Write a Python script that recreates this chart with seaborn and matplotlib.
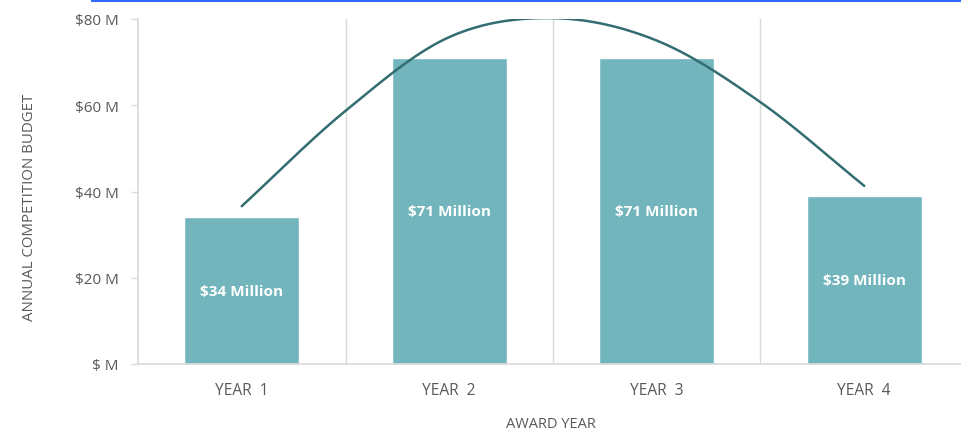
import numpy as np
import pandas as pd
import matplotlib
matplotlib.use("Agg")
import matplotlib.pyplot as plt
import seaborn as sns
from matplotlib.lines import Line2D

# ---- data ----
years = ["YEAR  1", "YEAR  2", "YEAR  3", "YEAR  4"]
budget = [34, 71, 71, 39]
bar_labels = ["$34 Million", "$71 Million", "$71 Million", "$39 Million"]
y_ticks = [0, 20, 40, 60, 80]
y_tick_labels = ["$ M", "$20 M", "$40 M", "$60 M", "$80 M"]
# trend curve, sampled at category positions (0 = Year 1 ... 3 = Year 4)
trend_x = [0, 0.5, 1, 1.5, 2, 2.5, 3]
trend_y = [36.6, 58.7, 75.8, 80.2, 75.0, 60.7, 41.3]

BAR = "#73B5BD"
LINE = "#336D72"
GRID = "#D9D9D9"
TXT = "#595959"

sns.set_theme(style="white")
plt.rcParams["font.family"] = ["Open Sans", "DejaVu Sans"]

W, H = 962, 431
fig = plt.figure(figsize=(W / 100, H / 100), dpi=100)
ax = fig.add_axes([138 / W, 66 / H, 830 / W, 345 / H])

df = pd.DataFrame({"year": years, "budget": budget})
sns.barplot(data=df, x="year", y="budget", color=BAR, saturation=1,
            width=0.555, ax=ax, zorder=2)

# smooth curve (cubic Hermite through the read points)
px = np.array(trend_x, float)
py = np.array(trend_y, float)
n = len(px)
m = np.zeros(n)
for i in range(n):
    if i == 0:
        m[i] = (py[1] - py[0]) / (px[1] - px[0])
    elif i == n - 1:
        m[i] = (py[-1] - py[-2]) / (px[-1] - px[-2])
    else:
        m[i] = (py[i + 1] - py[i - 1]) / (px[i + 1] - px[i - 1])
xs, ys = [], []
for i in range(n - 1):
    h = px[i + 1] - px[i]
    t = np.linspace(0, 1, 40)
    h00 = 2 * t**3 - 3 * t**2 + 1
    h10 = t**3 - 2 * t**2 + t
    h01 = -2 * t**3 + 3 * t**2
    h11 = t**3 - t**2
    xs.extend(px[i] + t * h)
    ys.extend(h00 * py[i] + h10 * h * m[i] + h01 * py[i + 1] + h11 * h * m[i + 1])
sns.lineplot(x=xs, y=ys, sort=False, color=LINE, linewidth=1.8, ax=ax, zorder=3)

# bar value labels
for i, (v, lab) in enumerate(zip(budget, bar_labels)):
    ax.text(i, v / 2, lab, ha="center", va="center", color="white",
            fontsize=11, fontweight="bold", zorder=4)

ax.set_xlim(-0.5, 3.5)
ax.set_ylim(0, 80)
for xv in [0.5, 1.5, 2.5, 3.5]:
    ax.axvline(xv, color=GRID, linewidth=1, zorder=1)

ax.set_yticks(y_ticks)
ax.set_yticklabels(y_tick_labels)
ax.tick_params(axis="y", left=True, length=5, width=1, color=GRID, pad=9,
               labelsize=11, labelcolor=TXT)
ax.tick_params(axis="x", bottom=False, pad=7, labelsize=11.2, labelcolor=TXT)
for s in ["top", "right"]:
    ax.spines[s].set_visible(False)
for s in ["left", "bottom"]:
    ax.spines[s].set_color(GRID)
    ax.spines[s].set_linewidth(1.2)

ax.set_xlabel("")
ax.set_ylabel("")
fig.text(30 / W, 1 - 207 / H, "ANNUAL COMPETITION BUDGET", rotation=90,
         ha="center", va="center", fontsize=10.8, color=TXT)
fig.text(551 / W, 1 - 425 / H, "AWARD YEAR", ha="center", va="center",
         fontsize=10.5, color=TXT)

# selection border fragment at top
fig.add_artist(Line2D([92 / W, 1], [1 - 1.5 / H, 1 - 1.5 / H],
                      transform=fig.transFigure, color="#2F6BFF", linewidth=1.5))
fig.add_artist(Line2D([92 / W, 92 / W], [1 - 1.5 / H, 1],
                      transform=fig.transFigure, color="#2F6BFF", linewidth=1.5))

fig.savefig("out.png", dpi=100)
